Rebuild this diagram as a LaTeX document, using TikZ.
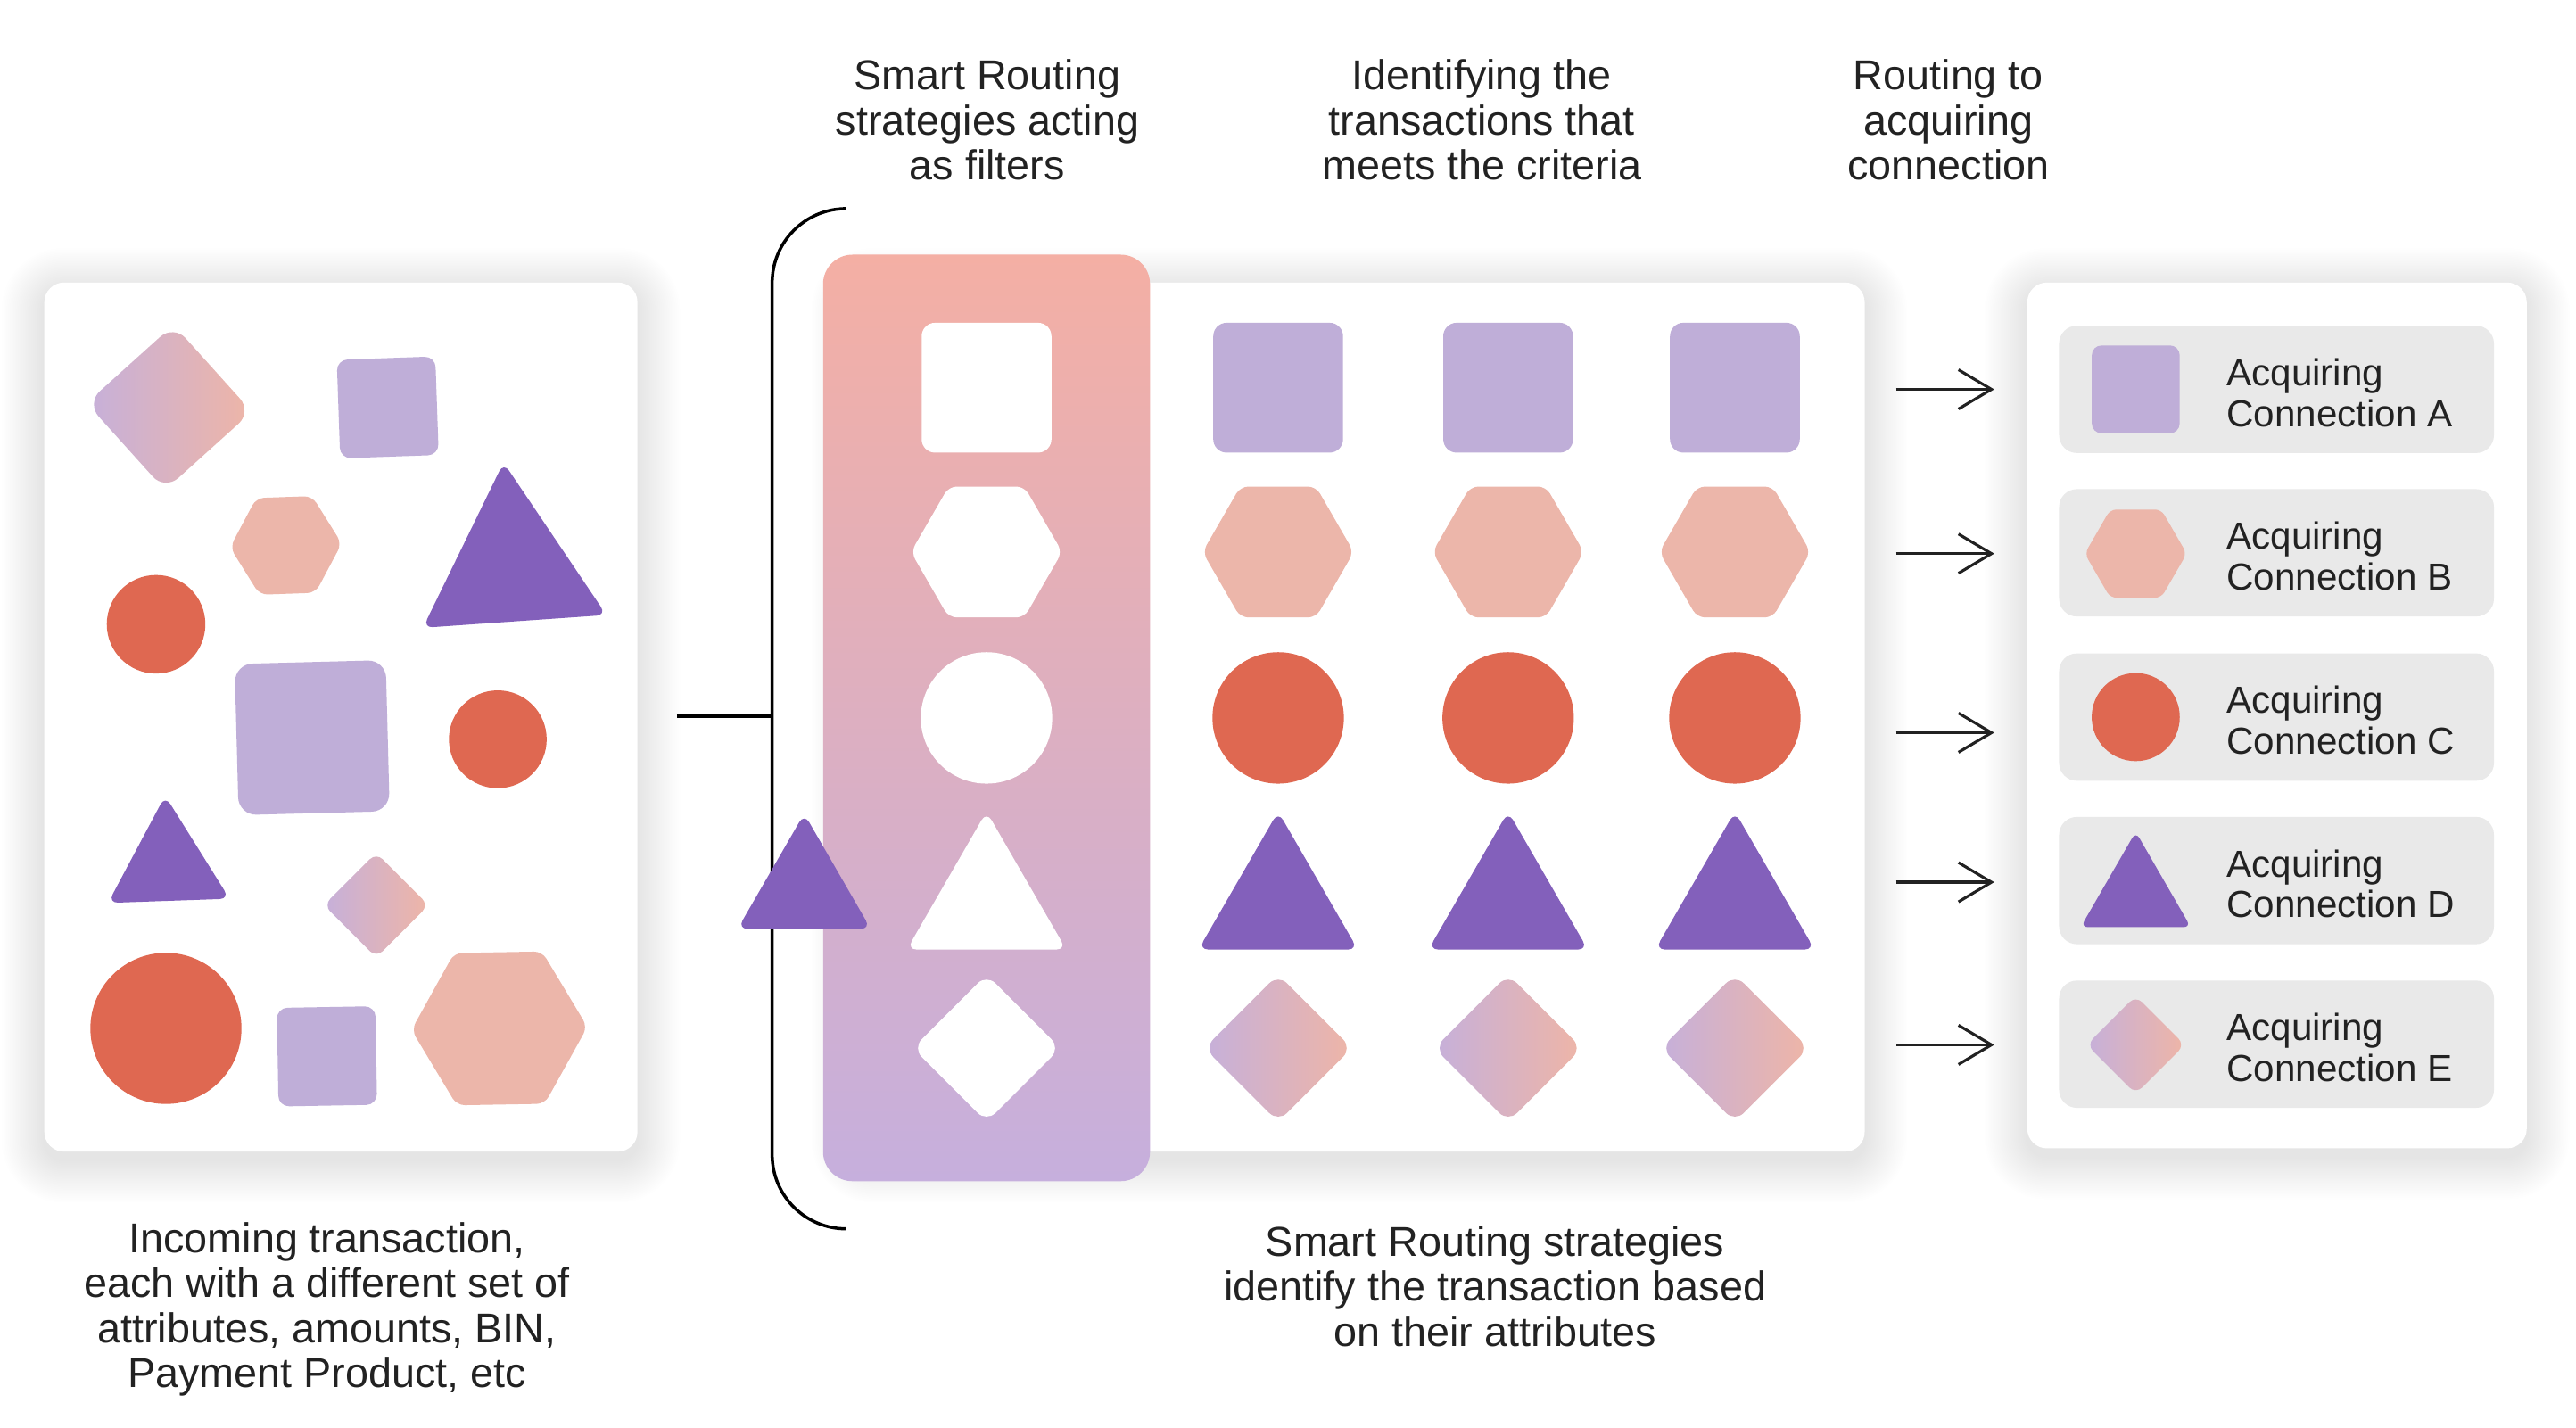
\documentclass[tikz,border=0pt]{standalone}
\usepackage{fontspec}
\setmainfont{Liberation Sans}
\usetikzlibrary{arrows.meta, shapes.geometric, positioning}

\definecolor{lilac}{HTML}{BFAED8}
\definecolor{blush}{HTML}{ECB6AA}
\definecolor{coral}{HTML}{DF6851}
\definecolor{grape}{HTML}{8360BB}
\definecolor{fadeL}{HTML}{C6B0DA}
\definecolor{fadeR}{HTML}{EEB5A7}
\definecolor{peach}{HTML}{F4AFA4}
\definecolor{mauve}{HTML}{C6AFDD}
\definecolor{rowgray}{HTML}{E9E9E9}
\definecolor{ink}{HTML}{222222}

\tikzset{
  sqr/.style={rectangle, inner sep=0pt, minimum size=#1, rounded corners=0.15cm},
  hexa/.style={regular polygon, regular polygon sides=6, inner sep=0pt, minimum size=#1, rounded corners=0.09cm},
  tri/.style={regular polygon, regular polygon sides=3, inner sep=0pt, minimum size=#1, rounded corners=0.11cm},
  rnd/.style={circle, inner sep=0pt, minimum size=#1},
  dia/.style={diamond, aspect=1, inner sep=0pt, minimum size=#1, rounded corners=0.14cm},
  twotone/.style={left color=fadeL, right color=fadeR},
  panel/.style={fill=white, rounded corners=0.22cm},
  legendrow/.style={fill=rowgray, rounded corners=0.2cm, minimum width=4.875cm, minimum height=1.427cm, inner sep=0pt},
  caption/.style={font=\fontsize{13.3pt}{14.3pt}\selectfont, align=center, text=ink, inner sep=0pt},
  legendtext/.style={font=\fontsize{12pt}{13pt}\selectfont, align=left, text=ink, anchor=west, inner sep=0pt},
  bracketline/.style={draw=black, line width=1pt},
  routearrow/.style={draw=ink, line width=0.9pt, -{Straight Barb[length=0.37cm, width=0.44cm]}, shorten >=0.72cm},
}

\newcommand{\panelhalo}[4]{%
  \foreach \g in {1,...,26}{%
    \fill[black, opacity=0.0026, rounded corners={0.22cm+\g*0.018cm}] (#1-\g,#2-\g+5) rectangle (#3+\g,#4+\g+5);
  }}

\begin{document}
\begin{tikzpicture}[x=0.018418cm, y=-0.018418cm]
    \useasboundingbox (0,0) rectangle (1568,869);

    %%% Panels %%%
    \panelhalo{27}{172}{388}{701}   \panelhalo{520}{172}{1135}{701}   \panelhalo{1234}{172}{1538}{699}
    \fill[panel] (27,172) rectangle (388,701);
    \fill[panel] (520,172) rectangle (1135,701);
    \fill[panel] (1234,172) rectangle (1538,699);
    \shade[top color=peach, bottom color=mauve, rounded corners=0.33cm] (501,155) rectangle (700,719);

    %%% Incoming transactions %%%
    \node[dia=1.86cm, twotone, rotate=-3, rounded corners=0.2cm] (inDia1) at (103,248) {};
    \node[sqr=1.105cm, fill=lilac, rotate=2, rounded corners=0.12cm] (inSq1) at (236,248) {};
    \node[hexa=1.252cm, fill=blush, rotate=2] (inHx1) at (174,332) {};
    \node[tri=2.381cm, fill=grape, rotate=4] (inTr1) at (311,346) {};
    \node[rnd=1.105cm, fill=coral] (inCi1) at (95,380) {};
    \node[sqr=1.694cm, fill=lilac, rotate=1.5, rounded corners=0.2cm] (inSq2) at (190,449) {};
    \node[rnd=1.096cm, fill=coral] (inCi2) at (303,450) {};
    \node[tri=1.573cm, fill=grape, rotate=2] (inTr2) at (102,527) {};
    \node[dia=1.179cm, twotone, rounded corners=0.1cm] (inDia2) at (229,551) {};
    \node[rnd=1.694cm, fill=coral] (inCi3) at (101,626) {};
    \node[sqr=1.105cm, fill=lilac, rotate=1, rounded corners=0.12cm] (inSq3) at (199,643) {};
    \node[hexa=1.971cm, fill=blush, rotate=1] (inHx2) at (304,626) {};

    %%% Filter column %%%
    \node[sqr=1.455cm, fill=white] (fSq) at (600.5,236) {};
    \node[hexa=1.694cm, fill=white] (fHx) at (600.5,336) {};
    \node[rnd=1.473cm, fill=white] (fCi) at (600.5,437) {};
    \node[tri=2.063cm, fill=white] (fTr) at (600.5,550) {};
    \node[dia=1.658cm, fill=white] (fDi) at (600.5,638) {};

    %%% Matched transactions %%%
    \node[sqr=1.455cm, fill=lilac] (sqA) at (778,236) {};   \node[sqr=1.455cm, fill=lilac] (sqB) at (918,236) {};   \node[sqr=1.455cm, fill=lilac] (sqC) at (1056,236) {};
    \node[hexa=1.694cm, fill=blush] (hxA) at (778,336) {};  \node[hexa=1.694cm, fill=blush] (hxB) at (918,336) {};  \node[hexa=1.694cm, fill=blush] (hxC) at (1056,336) {};
    \node[rnd=1.473cm, fill=coral] (ciA) at (778,437) {};   \node[rnd=1.473cm, fill=coral] (ciB) at (918,437) {};   \node[rnd=1.473cm, fill=coral] (ciC) at (1056,437) {};
    \node[tri=2.063cm, fill=grape] (trA) at (778,550) {};   \node[tri=2.063cm, fill=grape] (trB) at (918,550) {};   \node[tri=2.063cm, fill=grape] (trC) at (1056,550) {};
    \node[dia=1.658cm, twotone] (diA) at (778,638) {};      \node[dia=1.658cm, twotone] (diB) at (918,638) {};      \node[dia=1.658cm, twotone] (diC) at (1056,638) {};

    %%% Bracket %%%
    \coordinate (feed) at (412,436);   \coordinate (fork) at (470,436);
    \coordinate (brTop) at (515,127);  \coordinate (brBot) at (515,748);
    \draw[bracketline] (feed) -- (fork);
    \draw[bracketline, rounded corners=0.83cm] (brTop) -| (fork) |- (brBot);
    \node[tri=1.722cm, fill=grape] (passTr) at (489.5,542) {};

    %%% Acquiring connections %%%
    \node[legendrow] (rowA) at (1385.7,237) {};
    \node[legendrow] (rowB) at (1385.7,336.5) {};
    \node[legendrow] (rowC) at (1385.7,436.5) {};
    \node[legendrow] (rowD) at (1385.7,536) {};
    \node[legendrow] (rowE) at (1385.7,635.6) {};
    \node[sqr=0.985cm, fill=lilac, rounded corners=0.11cm] (lgSq) at (1300,237) {};
    \node[hexa=1.142cm, fill=blush, rounded corners=0.07cm] (lgHx) at (1300,337) {};
    \node[rnd=0.987cm, fill=coral] (lgCi) at (1300,436.5) {};
    \node[tri=1.425cm, fill=grape, rounded corners=0.08cm] (lgTr) at (1300,545) {};
    \node[dia=1.105cm, twotone, rounded corners=0.1cm] (lgDi) at (1300,636) {};
    \node[legendtext] (txA) at (1355,239) {Acquiring\\Connection A};
    \node[legendtext] (txB) at (1355,338.5) {Acquiring\\Connection B};
    \node[legendtext] (txC) at (1355,438.5) {Acquiring\\Connection C};
    \node[legendtext] (txD) at (1355,538) {Acquiring\\Connection D};
    \node[legendtext] (txE) at (1355,637.6) {Acquiring\\Connection E};

    %%% Arrows %%%
    \coordinate (inA) at (1154,237);  \coordinate (inB) at (1154,337);  \coordinate (inC) at (1154,446);
    \coordinate (inD) at (1154,537);  \coordinate (inE) at (1154,636);
    \draw[routearrow] (inA) -- (inA -| rowA.west);
    \draw[routearrow] (inB) -- (inB -| rowB.west);
    \draw[routearrow] (inC) -- (inC -| rowC.west);
    \draw[routearrow] (inD) -- (inD -| rowD.west);
    \draw[routearrow] (inE) -- (inE -| rowE.west);

    %%% Captions %%%
    \node[caption] (capFilter) at (601,73) {Smart Routing\\strategies acting\\as filters};
    \node[caption] (capMatch) at (902,73) {Identifying the\\transactions that\\meets the criteria};
    \node[caption] (capRoute) at (1186,73) {Routing to\\acquiring\\connection};
    \node[caption] (capIn) at (199,797) {Incoming transaction,\\each with a different set of\\attributes, amounts, BIN,\\Payment Product, etc};
    \node[caption] (capIdent) at (910,783) {Smart Routing strategies\\identify the transaction based\\on their attributes};

\end{tikzpicture}
\end{document}
